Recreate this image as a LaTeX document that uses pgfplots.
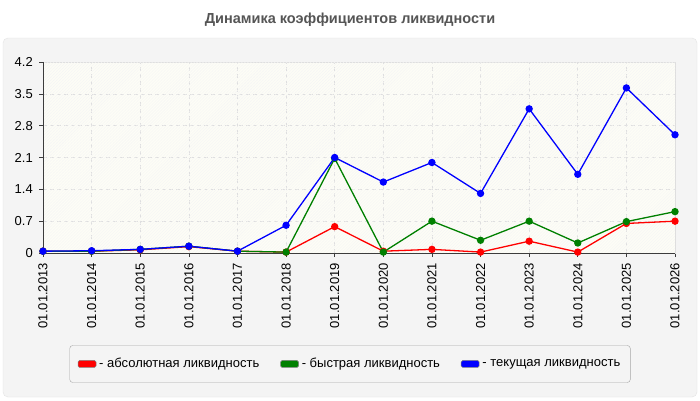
\documentclass[border=0pt]{standalone}
\usepackage{pgfplots}
\pgfplotsset{compat=1.18}
\usepackage{fontspec}
\setmainfont{Liberation Sans}
\usetikzlibrary{patterns}
\definecolor{panel}{RGB}{244,244,244}
\definecolor{panelborder}{RGB}{228,228,228}
\definecolor{plotbg}{RGB}{253,253,246}
\definecolor{gridc}{RGB}{222,222,222}
\definecolor{axisc}{RGB}{60,60,60}
\definecolor{titlec}{RGB}{85,85,85}
\definecolor{cred}{RGB}{255,0,0}
\definecolor{cgreen}{RGB}{0,128,0}
\definecolor{cblue}{RGB}{0,0,255}
\begin{document}
\begin{tikzpicture}[x=1bp,y=1bp]
\fill[white] (0,0) rectangle (700,400);
\draw[panelborder, fill=panel, rounded corners=5bp] (3,3) rectangle (697,362);
\node[font=\fontsize{14.5bp}{17bp}\selectfont\bfseries, text=titlec] at (350,380) {Динамика коэффициентов ликвидности};
\begin{axis}[
  at={(43bp,147bp)}, anchor=south west,
  scale only axis, width=632bp, height=191bp,
  xmin=0, xmax=13, ymin=0, ymax=4.2,
  axis background/.style={fill=plotbg},
  axis line style={draw=gridc},
  xtick={0,...,13},
  xticklabels={01.01.2013,01.01.2014,01.01.2015,01.01.2016,01.01.2017,01.01.2018,01.01.2019,01.01.2020,01.01.2021,01.01.2022,01.01.2023,01.01.2024,01.01.2025,01.01.2026},
  ytick={0,0.7,1.4,2.1,2.8,3.5,4.2},
  yticklabels={0,0.7,1.4,2.1,2.8,3.5,4.2},
  x tick label style={rotate=90, anchor=east},
  tick align=outside, tick pos=left,
  major tick length=4bp,
  tick style={draw=axisc, line width=0.6bp},
  xticklabel style={font=\fontsize{13bp}{15bp}\selectfont, text=black, inner sep=0pt, xshift=-6bp},
  yticklabel style={font=\fontsize{13bp}{15bp}\selectfont, text=black, inner sep=0pt, xshift=-6bp},
  /pgf/number format/assume math mode=true,
  grid=major,
  major grid style={draw=gridc, dashed, dash pattern=on 4bp off 3bp, line width=0.6bp},
  every axis plot/.append style={line width=1.3bp, mark=*, mark size=3bp},
  legend columns=3,
  legend style={at={(axis description cs:0.4858,-0.581)}, anchor=center,
    draw=gray!70, fill=panel, rounded corners=3bp,
    inner xsep=8bp, inner ysep=11bp,
    font=\fontsize{13bp}{15bp}\selectfont,
    /tikz/every even column/.append style={column sep=19bp},
    /tikz/every odd column/.append style={column sep=1bp}},
  legend cell align=left,
]
\fill[pattern=north east lines, pattern color=black!4] (rel axis cs:0,0) rectangle (rel axis cs:1,1);
\addplot[cred, mark options={fill=cred}, legend image code/.code={\draw[draw=black!50, fill=cred, rounded corners=1.5bp, line width=0.5bp] (0bp,-3.5bp) rectangle (18bp,3.5bp);}] coordinates {
(0,0.04) (1,0.04) (2,0.07) (3,0.14) (4,0.04) (5,0.02) (6,0.58) (7,0.04) (8,0.08) (9,0.02) (10,0.26) (11,0.02) (12,0.65) (13,0.70)};
\addlegendentry{- абсолютная ликвидность}
\addplot[cgreen, mark options={fill=cgreen}, legend image code/.code={\draw[draw=black!50, fill=cgreen, rounded corners=1.5bp, line width=0.5bp] (0bp,-3.5bp) rectangle (18bp,3.5bp);}] coordinates {
(0,0.04) (1,0.04) (2,0.08) (3,0.15) (4,0.04) (5,0.02) (6,2.08) (7,0.02) (8,0.70) (9,0.28) (10,0.70) (11,0.22) (12,0.69) (13,0.91)};
\addlegendentry{- быстрая ликвидность}
\addplot[cblue, mark options={fill=cblue}, legend image code/.code={\draw[draw=black!50, fill=cblue, rounded corners=1.5bp, line width=0.5bp] (0bp,-3.5bp) rectangle (18bp,3.5bp);}] coordinates {
(0,0.04) (1,0.05) (2,0.08) (3,0.15) (4,0.04) (5,0.61) (6,2.10) (7,1.56) (8,1.99) (9,1.31) (10,3.17) (11,1.73) (12,3.63) (13,2.60)};
\addlegendentry{- текущая ликвидность}
\draw[axisc, line width=0.8bp] (rel axis cs:0,1) -- (rel axis cs:0,0) -- (rel axis cs:1,0);
\end{axis}
\end{tikzpicture}
\end{document}
